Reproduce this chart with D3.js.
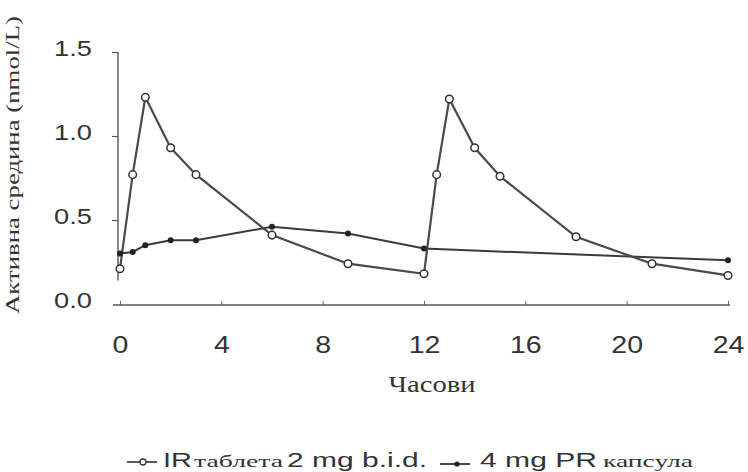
<!DOCTYPE html>
<html>
<head>
<meta charset="utf-8">
<script src="https://cdn.jsdelivr.net/npm/d3@7"></script>
<style>
  html, body { margin: 0; padding: 0; background: #fff; }
  svg { display: block; }
</style>
</head>
<body>
<svg id="chart" width="748" height="472"></svg>
<script>
// ---- data ----
const irHours  = [0, 0.5, 1, 2, 3, 6, 9, 12, 12.5, 13, 14, 15, 18, 21, 24];
const irValues = [0.21, 0.77, 1.23, 0.93, 0.77, 0.41, 0.24, 0.18, 0.77, 1.22, 0.93, 0.76, 0.40, 0.24, 0.17];
const prHours  = [0, 0.5, 1, 2, 3, 6, 9, 12, 24];
const prValues = [0.30, 0.31, 0.35, 0.38, 0.38, 0.46, 0.42, 0.33, 0.26];
const xTicks = [0, 4, 8, 12, 16, 20, 24];
const yTicks = [0, 0.5, 1.0, 1.5];
const xTitle = "Часови";
const yTitle = "Активна средина (nmol/L)";
const legendIR = ["IR", "таблета", "2 mg b.i.d."];
const legendPR = ["4 mg PR", "капсула"];

// ---- drawing ----
const svg = d3.select("#chart");
const x = d3.scaleLinear().domain([0, 24]).range([120, 728]);
const y = d3.scaleLinear().domain([0, 1.5]).range([304, 52]);
const ink = "#333";
const sans = "'Liberation Sans', Arial, sans-serif";
const serif = "'Liberation Serif', 'Times New Roman', serif";
const SX = 1.24;

// x axis
const xAxis = svg.append("g").attr("transform", "translate(0,305)")
  .call(d3.axisBottom(x).tickValues(xTicks).tickSize(-4).tickFormat(d3.format("d")));
xAxis.select(".domain").remove();
xAxis.append("line").attr("x1", 113).attr("x2", 730).attr("y1", 0).attr("y2", 0)
  .attr("stroke", "#555").attr("stroke-width", 1.4);
xAxis.selectAll(".tick line").attr("stroke", "#666").attr("stroke-width", 1);
xAxis.selectAll(".tick text")
  .attr("y", 48).attr("dy", 0)
  .attr("transform", `scale(${SX},1)`)
  .attr("font-family", sans).attr("font-size", 23).attr("fill", ink);

// y axis
const yAxis = svg.append("g").attr("transform", "translate(118,0)")
  .call(d3.axisLeft(y).tickValues(yTicks).tickSize(6).tickFormat(d3.format(".1f")));
yAxis.select(".domain").remove();
yAxis.append("line").attr("x1", 0).attr("x2", 0).attr("y1", y(1.5)).attr("y2", y(0.14))
  .attr("stroke", "#555").attr("stroke-width", 1.4);
yAxis.selectAll(".tick line").attr("stroke", "#555").attr("stroke-width", 1.2)
  .filter(d => d === 0).remove();
yAxis.selectAll(".tick text")
  .attr("x", -26 / SX).attr("dy", 3)
  .attr("transform", `scale(${SX},1)`)
  .attr("font-family", sans).attr("font-size", 22).attr("fill", ink);

// titles
svg.append("text").attr("x", 432).attr("y", 392).attr("text-anchor", "middle")
  .attr("font-family", serif).attr("font-size", 24).attr("fill", ink)
  .attr("textLength", 87).attr("lengthAdjust", "spacingAndGlyphs")
  .text(xTitle);
svg.append("text").attr("transform", "translate(19,165) rotate(-90)")
  .attr("text-anchor", "middle")
  .attr("font-family", serif).attr("font-size", 19).attr("fill", ink)
  .attr("textLength", 298).attr("lengthAdjust", "spacingAndGlyphs")
  .text(yTitle);

// lines
const line = d3.line().x(d => x(d[0])).y(d => y(d[1]));
const irData = irHours.map((h, i) => [h, irValues[i]]);
const prData = prHours.map((h, i) => [h, prValues[i]]);

svg.append("path").datum(prData).attr("d", line)
  .attr("fill", "none").attr("stroke", "#3a3a3a").attr("stroke-width", 2);
svg.append("path").datum(irData).attr("d", line)
  .attr("fill", "none").attr("stroke", "#4a4a4a").attr("stroke-width", 2.2);

svg.selectAll(".pr").data(prData).enter().append("circle")
  .attr("cx", d => x(d[0])).attr("cy", d => y(d[1])).attr("r", 3)
  .attr("fill", "#222");
svg.selectAll(".ir").data(irData).enter().append("circle")
  .attr("cx", d => x(d[0])).attr("cy", d => y(d[1])).attr("r", 3.8)
  .attr("fill", "#fff").attr("stroke", "#333").attr("stroke-width", 1.5);

// legend
const lg = svg.append("g");
lg.append("line").attr("x1", 127).attr("x2", 157).attr("y1", 462).attr("y2", 462)
  .attr("stroke", "#444").attr("stroke-width", 1.8);
lg.append("circle").attr("cx", 143).attr("cy", 462).attr("r", 3)
  .attr("fill", "#fff").attr("stroke", "#333").attr("stroke-width", 1.3);
lg.append("line").attr("x1", 440).attr("x2", 470).attr("y1", 464).attr("y2", 464)
  .attr("stroke", "#333").attr("stroke-width", 1.8);
lg.append("circle").attr("cx", 457).attr("cy", 464).attr("r", 2.6).attr("fill", "#222");

const legTexts = [
  {t: legendIR[0], x: 163, w: 29, f: sans, s: 21},
  {t: legendIR[1], x: 194, w: 89, f: serif, s: 16},
  {t: legendIR[2], x: 287, w: 140, f: sans, s: 21},
  {t: legendPR[0], x: 480, w: 117, f: sans, s: 21},
  {t: legendPR[1], x: 603, w: 90, f: serif, s: 16}
];
lg.selectAll(".lt").data(legTexts).enter().append("text")
  .attr("x", d => d.x).attr("y", 467)
  .attr("font-family", d => d.f).attr("font-size", d => d.s).attr("fill", ink)
  .attr("textLength", d => d.w).attr("lengthAdjust", "spacingAndGlyphs")
  .text(d => d.t);
</script>
</body>
</html>
